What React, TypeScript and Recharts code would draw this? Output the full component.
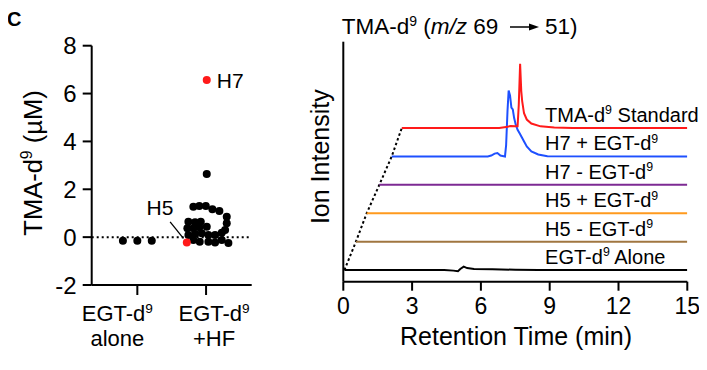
import React from 'react';
import {
  ScatterChart,
  Scatter,
  LineChart,
  Line,
  XAxis,
  YAxis,
  ReferenceLine,
  ReferenceDot,
} from 'recharts';

const FONT = '"Liberation Sans", Arial, Helvetica, sans-serif';

// ---- left panel: TMA-d9 (uM) per sample, x = group position + jitter ----
const groupTicks = [1, 2];
const groupLabels = [
  ['EGT-d', '9', 'alone'],
  ['EGT-d', '9', '+HF'],
];
const concTicks = [-2, 0, 2, 4, 6, 8];

const aloneX = [0.79, 1.0, 1.21];
const aloneY = [-0.15, -0.15, -0.15];

const hfX = [
  1.815, 1.902, 1.996, 2.092, 2.194, 2.301, 1.743, 1.84, 1.923, 1.728, 1.815, 1.902, 2.01, 2.301,
  2.277, 1.743, 1.84, 1.937, 2.034, 2.131, 2.228, 1.815, 1.908, 2.034, 2.131, 2.228, 2.325, 2.01,
];
const hfY = [
  1.27, 1.3, 1.3, 1.17, 1.09, 0.85, 0.64, 0.62, 0.64, 0.37, 0.37, 0.41, 0.43, 0.58,
  0.3, 0.09, 0.13, 0.16, 0.09, 0.09, 0.18, -0.12, -0.19, -0.19, -0.22, -0.12, -0.25, 2.64,
];

const highlightNames = ['H7', 'H5'];
const highlightX = [2.01, 1.72];
const highlightY = [6.57, -0.22];

// ---- right panel: offset chromatograms (time in min, signal above own baseline) ----
const timeTicks = [0, 3, 6, 9, 12, 15];
const traceLabels = [
  ['EGT-d', '9', ' Alone'],
  ['H5 - EGT-d', '9', ''],
  ['H5 + EGT-d', '9', ''],
  ['H7 - EGT-d', '9', ''],
  ['H7 + EGT-d', '9', ''],
  ['TMA-d', '9', ' Standard'],
];
const traceOffsets = [0, 1, 2, 3, 4, 5];
const traceStarts = [0.05, 0.55, 1.02, 1.57, 2.11, 2.55];
const traceColors = ['#000000', '#a07640', '#ff9a1e', '#7d2a93', '#1e50ff', '#ff1a1a'];

const aloneTrace = [
  [0.05, 0], [4.4, 0], [4.8, -0.02], [5.0, -0.04], [5.1, 0.04], [5.25, 0.12], [5.4, 0.07],
  [5.7, 0.04], [6.5, 0.03], [7.5, 0.01], [8.5, 0], [15, 0],
];
const h5MinusTrace = [[0.55, 0], [15, 0]];
const h5PlusTrace = [[1.02, 0], [15, 0]];
const h7MinusTrace = [[1.57, 0], [15, 0]];
const h7PlusTrace = [
  [2.11, 0], [6.3, 0], [6.45, 0.03], [6.6, 0.1], [6.72, 0.12], [6.85, 0.03], [7.05, 0], [7.1, 0.4],
  [7.16, 1.6], [7.21, 2.32], [7.27, 2.15], [7.33, 1.72], [7.39, 1.66], [7.45, 1.35], [7.52, 1.12],
  [7.6, 0.94], [7.7, 0.8], [7.8, 0.65], [7.9, 0.5], [8.0, 0.35], [8.2, 0.18], [8.5, 0.07],
  [8.9, 0.01], [15, 0],
];
const standardTrace = [
  [2.55, 0], [6.8, 0], [7.1, 0.04], [7.3, 0.07], [7.5, 0.06], [7.6, 0.06], [7.65, 0.8],
  [7.71, 2.26], [7.76, 1.3], [7.8, 0.95], [7.88, 0.52], [8.0, 0.3], [8.2, 0.16], [8.6, 0.06],
  [9.2, 0.02], [10, 0], [15, 0],
];
const traces = [aloneTrace, h5MinusTrace, h5PlusTrace, h7MinusTrace, h7PlusTrace, standardTrace];

function SupText({ x, y, parts, size, anchor = 'start', transform }: any) {
  const [pre, sup, post] = parts;
  const lift = size * 0.38;
  return (
    <text x={x} y={y} fontSize={size} textAnchor={anchor} transform={transform} fill="#000" fontFamily={FONT}>
      <tspan>{pre}</tspan>
      <tspan dy={-lift} fontSize={size * 0.62}>{sup}</tspan>
      {post ? <tspan dy={lift}>{post}</tspan> : null}
    </text>
  );
}

// two-line category label under the left x axis
const GroupTick = (props: any) => {
  const { x, payload } = props;
  const i = groupTicks.indexOf(payload.value);
  const [pre, sup, second] = groupLabels[i];
  const cx = x + (i === 0 ? -20 : 8);
  return (
    <g>
      <SupText x={cx} y={321} parts={[pre, sup, '']} size={22} anchor="middle" />
      <text x={cx} y={346} fontSize={22} textAnchor="middle" fill="#000" fontFamily={FONT}>
        {second}
      </text>
    </g>
  );
};

const BlackDot = (props: any) => <circle cx={props.cx} cy={props.cy} r={4} fill="#000" />;

const HighlightDot = (props: any) => {
  const { cx, cy, payload } = props;
  return (
    <g>
      <circle cx={cx} cy={cy} r={4} fill="#ff1a1a" />
      {payload.name === 'H7' ? (
        <text x={cx + 10} y={cy + 8} fontSize={21} fill="#000" fontFamily={FONT}>H7</text>
      ) : (
        <g>
          <line x1={cx - 16.7} y1={cy - 20.6} x2={cx - 3.4} y2={cy - 4} stroke="#000" strokeWidth={1.3} />
          <text x={cx - 13.4} y={cy - 27} textAnchor="end" fontSize={21} fill="#000" fontFamily={FONT}>H5</text>
        </g>
      )}
    </g>
  );
};

const LeftLabels = () => (
  <g>
    <text x={7} y={26} fontSize={20} fontWeight="bold" fill="#000" fontFamily={FONT}>C</text>
    <SupText x={42} y={163} parts={['TMA-d', '9', ' (\u00b5M)']} size={25.5} anchor="middle" transform="rotate(-90 42 163)" />
  </g>
);

const RightLabels = () => (
  <g>
    <text x={341.7} y={34.3} fontSize={22.5} fill="#000" fontFamily={FONT}>
      <tspan>TMA-d</tspan>
      <tspan dy={-8.5} fontSize={14}>9</tspan>
      <tspan dy={8.5}> (</tspan>
      <tspan fontStyle="italic">m/z</tspan>
      <tspan> 69</tspan>
    </text>
    <line x1={510} y1={27} x2={531} y2={27} stroke="#000" strokeWidth={1.5} />
    <polygon points="529,23.5 539,27 529,30.5" fill="#000" />
    <text x={545} y={34.3} fontSize={22.5} fill="#000" fontFamily={FONT}>51)</text>
    <text x={329.5} y={156.7} fontSize={25} textAnchor="middle" fill="#000" fontFamily={FONT} transform="rotate(-90 329.5 156.7)">
      Ion Intensity
    </text>
  </g>
);

const XTitle = () => (
  <text x={516} y={345} fontSize={25} textAnchor="middle" fill="#000" fontFamily={FONT}>
    Retention Time (min)
  </text>
);

export default function App() {
  const alone = aloneX.map((x, i) => ({ x, y: aloneY[i] }));
  const hf = hfX.map((x, i) => ({ x, y: hfY[i] }));
  const highlight = highlightX.map((x, i) => ({ x, y: highlightY[i], name: highlightNames[i] }));

  const traceData = traces.map((trace, k) => trace.map(([t, v]) => ({ t, y: v + traceOffsets[k] })));
  const connector = traceStarts.map((t, k) => ({ t, y: traceOffsets[k] }));

  const axisStyle = { stroke: '#000', strokeWidth: 2 };

  return (
    <div style={{ position: 'relative', width: 707, height: 370, margin: -8, background: '#fff', fontFamily: FONT }}>
      <div style={{ position: 'absolute', left: 0, top: 0 }}>
        <ScatterChart width={707} height={370} margin={{ top: 45.7, right: 455.3, bottom: 25, left: 0 }}>
          <XAxis
            type="number"
            dataKey="x"
            domain={[0.336, 2.664]}
            ticks={groupTicks}
            allowDataOverflow
            height={60}
            tickSize={10}
            axisLine={axisStyle}
            tickLine={axisStyle}
            tick={<GroupTick />}
          />
          <YAxis
            type="number"
            dataKey="y"
            domain={[-2, 8]}
            ticks={concTicks}
            allowDataOverflow
            width={91.7}
            tickSize={9}
            tickMargin={6}
            axisLine={axisStyle}
            tickLine={axisStyle}
            tick={{ fill: '#000', fontSize: 24, fontFamily: FONT }}
            label={{ content: LeftLabels }}
          />
          <ReferenceLine y={0} stroke="#000" strokeWidth={2} strokeDasharray="2 3" />
          <Scatter data={alone} shape={BlackDot} isAnimationActive={false} />
          <Scatter data={hf} shape={BlackDot} isAnimationActive={false} />
          <Scatter data={highlight} shape={HighlightDot} isAnimationActive={false} />
        </ScatterChart>
      </div>
      <div style={{ position: 'absolute', left: 0, top: 0 }}>
        <LineChart width={707} height={370} margin={{ top: 41.7, right: 19.7, bottom: 28.3, left: 290 }}>
          <XAxis
            type="number"
            dataKey="t"
            domain={[0, 15]}
            ticks={timeTicks}
            allowDataOverflow
            height={60}
            tickSize={9}
            tickMargin={7}
            axisLine={axisStyle}
            tickLine={axisStyle}
            tick={{ fill: '#000', fontSize: 23, fontFamily: FONT }}
            label={{ content: XTitle }}
          />
          <YAxis
            type="number"
            dataKey="y"
            domain={[-0.41, 8.04]}
            allowDataOverflow
            width={53.3}
            tick={false}
            tickLine={false}
            axisLine={axisStyle}
            label={{ content: RightLabels }}
          />
          <Line
            data={connector}
            dataKey="y"
            stroke="#000"
            strokeWidth={2}
            strokeDasharray="2.5 2.5"
            dot={false}
            isAnimationActive={false}
          />
          {traceData.map((d, k) => (
            <Line
              key={k}
              data={d}
              dataKey="y"
              stroke={traceColors[k]}
              strokeWidth={2}
              dot={false}
              isAnimationActive={false}
            />
          ))}
          {traceLabels.map((parts, k) => (
            <ReferenceDot
              key={k}
              x={8.8}
              y={traceOffsets[k]}
              r={0}
              ifOverflow="visible"
              shape={(p: any) => <SupText x={p.cx} y={p.cy - 6} parts={parts} size={20} />}
            />
          ))}
        </LineChart>
      </div>
    </div>
  );
}
